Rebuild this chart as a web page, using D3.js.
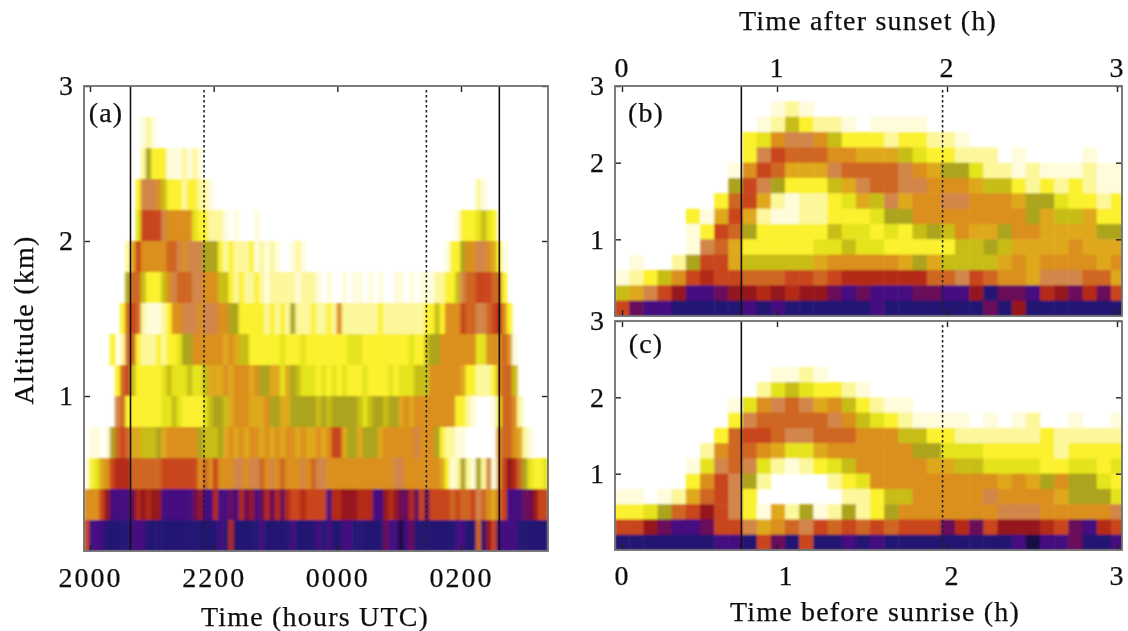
<!DOCTYPE html>
<html>
<head>
<meta charset="utf-8">
<script src="https://cdn.jsdelivr.net/npm/d3@7"></script>
<style>
body { margin: 0; background: #fff; }
text { font-family: "Liberation Serif", serif; fill: #111; stroke: #111; stroke-width: 0.25; }
</style>
</head>
<body>
<div class="mydiv"></div>
<script>
// colour classes, 0 = white (nothing) up to h = near black
var classColors = ["#ffffff", "#fffcdc", "#fdf79c", "#fbf12e", "#e5e31c", "#c8bd16", "#aca41a", "#dfa81a",
                   "#db8f1e", "#d2864a", "#cf6622", "#c9451b", "#b42a14", "#95161f", "#6a0c5a", "#44107f",
                   "#231672", "#151045"];

// each string is one altitude bin, top (2.8-3.0 km) to bottom (0-0.2 km), one char per time bin
var rowsA = [
  "0000000000 0000000000 0000000000 0000000000 0000000000 0000000000 0000000000 0000000000 0000000000",
  "0000000000 0121000000 0000000000 0000000000 0000000000 0000000000 0000000000 0000000000 0000000000",
  "0000000000 0263331112 1210000000 0000000000 0000000000 0000000000 0000000000 0000000000 0000000000",
  "0000000000 3999853332 3322100000 0000000000 0000000000 0000000000 0000000000 0000002100 0000000000",
  "0000000000 4bbbb98888 8433222101 0001000000 0000000000 0000000000 0000000000 0013334543 0000000000",
  "0000000027 b88888aa98 9996663232 2231212100 1210000000 0000000000 0000000000 1336889987 3100000000",
  "000000006a a5333589aa a998885532 3223212222 2122210100 1011010100 1101011122 3359aabbba a300000000",
  "00000003ab a211123889 9989998866 3333323232 6222322328 2222222322 2222223353 888baa99ab c830000000",
  "00000302aa 3222323346 6888888787 5533333343 3343333333 3444333333 3334335668 8888884488 8a81000000",
  "0000003ab5 3333345444 5445777878 8878667747 6544434343 4333433334 3444555888 8887332223 8aa5000000",
  "0000009a33 3333344543 3334566578 8877786677 6666656566 6665456656 6787888888 8833210001 4aa8200000",
  "011016aba7 7555678888 8865556787 8788787878 87877878bb 7667666788 8888988863 2211000000 8aa8721000",
  "13478bccca aaaaabbbbb bb8a8b8889 9899a898a8 8898a99888 8888888888 9988888887 3126216291 8bdca64334",
  "888bdffffe cdcddfffff fedffcffef cedfececec bbcbbbbfcc dddcccffdc deecebebbb babaab9a87 abfffeedbb",
  "bfffgggggf ffgggggggg ggggggfgcg ggggfggggg fggggfgfgg ffggggggef fhfegggggg ggffggagdb ffffgggggg"
];

var rowsB = [
  "0000000000 0000000000 0000000000 000000",
  "0000000000 0121000000 0000000000 000000",
  "0000000000 1253221011 1100000000 000000",
  "0000000003 4899853332 3322100000 000000",
  "0000000003 9baaa88777 5433222010 000100",
  "0000000018 ba7779aaaa 9876642212 111211",
  "000000006b 96333579aa 9988875532 323211",
  "00000003ab 7212234759 7889988876 643323",
  "00000317b7 2112233346 6888888886 755733",
  "0000013ba6 3333354434 3565877688 777766",
  "0000019a73 3333445443 3333556577 778777",
  "010026bb75 5555788888 7675555787 888878",
  "12358bcbba aabbabcccc ccaa9ba887 999aa7",
  "579bdffedd cdcddefeff feeffdgeef cdeceb",
  "beffgggggf gfggggggfg ggggggegdg gggggg"
];

var rowsC = [
  "0000000000 0000000000 0000000000 000000",
  "0000000000 0000000000 0000000000 000000",
  "0000000000 0000000000 0000000000 000000",
  "0000000000 0112100000 0000000000 000000",
  "0000000000 2454332100 0000000000 000000",
  "0000000014 89a9785321 1000000000 000000",
  "0000000039 aaaaa98543 2111101012 001001",
  "00000003ab ba99aaa888 5533222222 322222",
  "00000028aa 8744788888 8664443333 323333",
  "00000149a9 4212345888 8877554444 334434",
  "0000038b96 2000023488 8888888787 686643",
  "110127ab93 0000002235 5888889888 876664",
  "3346abdb93 1726126236 8888888999 888889",
  "bbdeffebb9 78a9bababa bbbecebddd cbefcb",
  "gggggggffg begbggfgfg ggggggggfh ffeggf"
];

var altTicks = [1, 2, 3];
var utcTicks = [0, 2, 4, 6];            // hours after 2000 UTC
var utcLabels = ["2000", "2200", "0000", "0200"];
var hourTicks = [0, 1, 2, 3];
var solidA = [0.655, 6.62], dottedA = [1.845, 5.44];
var solidBC = [0.77], dottedBC = [1.974];

var svg = d3.select(".mydiv").append("svg").attr("width", 1128).attr("height", 631);
var defs = svg.append("defs");
defs.append("filter").attr("id", "softA")
    .attr("x", "-2%").attr("y", "-2%").attr("width", "104%").attr("height", "104%")
  .append("feGaussianBlur").attr("stdDeviation", "1.5 0.9");
defs.append("filter").attr("id", "soft")
    .attr("x", "-2%").attr("y", "-2%").attr("width", "104%").attr("height", "104%")
  .append("feGaussianBlur").attr("stdDeviation", 0.9);
defs.append("filter").attr("id", "softtext")
  .append("feGaussianBlur").attr("stdDeviation", 0.4);

var colorOf = d3.scaleOrdinal(d3.range(classColors.length), classColors);

function drawCells(id, rows, box, nCols, xEnd, blur) {
  var cleaned = rows.map(function(r) { return r.replace(/ /g, ""); });
  var xCell = d3.scaleLinear().domain([0, nCols]).range([box.x0, xEnd]);
  var yCell = d3.scaleLinear().domain([0, rows.length]).range([box.y1 - box.h, box.y1]);
  defs.append("clipPath").attr("id", id).append("rect")
      .attr("x", box.x0).attr("y", box.y1 - box.h).attr("width", box.x1 - box.x0).attr("height", box.h);
  var cells = [];
  cleaned.forEach(function(r, i) {
    r.split("").forEach(function(ch, j) {
      var v = parseInt(ch, 36);
      if (v > 0) cells.push({ row: i, col: j, v: v });
    });
  });
  svg.append("g").attr("clip-path", "url(#" + id + ")")
    .append("g").attr("filter", "url(#" + blur + ")")
    .selectAll("rect").data(cells).enter().append("rect")
      .attr("x", function(d) { return xCell(d.col); })
      .attr("y", function(d) { return yCell(d.row); })
      .attr("width", function(d) { return xCell(d.col + 1) - xCell(d.col) + 0.5; })
      .attr("height", function(d) { return yCell(d.row + 1) - yCell(d.row) + 0.5; })
      .attr("fill", function(d) { return colorOf(d.v); });
}

function drawMarks(xs, y, solid, dotted) {
  var top = y.range()[1], bottom = y.range()[0];
  svg.selectAll(null).data(solid).enter().append("line")
      .attr("x1", xs).attr("x2", xs).attr("y1", top).attr("y2", bottom)
      .attr("stroke", "#111").attr("stroke-width", 1.6);
  svg.selectAll(null).data(dotted).enter().append("line")
      .attr("x1", xs).attr("x2", xs).attr("y1", top + 4).attr("y2", bottom)
      .attr("stroke", "#222").attr("stroke-width", 1.6).attr("stroke-dasharray", "2.5 2.5");
}

function styleLabels(g) {
  g.selectAll("text").attr("font-size", 28).attr("font-family", null)
      .attr("letter-spacing", 2).attr("filter", "url(#softtext)");
}

// inward ticks on all four sides; labels only where asked for
function drawFrame(x, y, box, xVals) {
  var tick = 6;
  var gs = [
    d3.axisBottom(x).tickValues(xVals).tickSize(-tick).tickFormat(""),
    d3.axisTop(x).tickValues(xVals).tickSize(-tick).tickFormat(""),
    d3.axisLeft(y).tickValues(altTicks).tickSize(-tick).tickPadding(9).tickFormat(d3.format("d")),
    d3.axisRight(y).tickValues(altTicks).tickSize(-tick).tickFormat("")
  ];
  var tr = ["translate(0," + box.y1 + ")", "translate(0," + (box.y1 - box.h) + ")",
            "translate(" + box.x0 + ",0)", "translate(" + box.x1 + ",0)"];
  gs.forEach(function(a, i) {
    var g = svg.append("g").attr("transform", tr[i]).call(a);
    g.select(".domain").remove();
    g.selectAll("line").attr("stroke", "#222").attr("stroke-width", 1.4);
    styleLabels(g);
  });
  svg.append("rect").attr("x", box.x0).attr("y", box.y1 - box.h)
      .attr("width", box.x1 - box.x0).attr("height", box.h)
      .attr("fill", "none").attr("stroke", "#6f6f6f").attr("stroke-width", 1.8);
}

function labelAxis(a, y) {
  var g = svg.append("g").attr("transform", "translate(0," + y + ")").call(a);
  g.select(".domain").remove();
  g.selectAll("line").remove();
  styleLabels(g);
}

function label(txt, x, y, rot) {
  svg.append("text").attr("text-anchor", "middle").attr("font-size", 28)
      .attr("letter-spacing", 1.2)
      .attr("filter", "url(#softtext)")
      .attr("transform", "translate(" + x + "," + y + ")" + (rot ? " rotate(" + rot + ")" : ""))
      .text(txt);
}

// panel a
var boxA = { x0: 84, x1: 548, y1: 551, h: 465 };
var xA = d3.scaleLinear().domain([0, 6]).range([90, 461]);
var yA = d3.scaleLinear().domain([0, 3]).range([551, 86]);
drawCells("clipA", rowsA, boxA, 90, 548, "softA");
drawMarks(xA, yA, solidA, dottedA);
drawFrame(xA, yA, boxA, utcTicks);
labelAxis(d3.axisBottom(xA).tickValues(utcTicks).tickSize(0).tickPadding(16)
  .tickFormat(function(d, i) { return utcLabels[i]; }), 551);

// panels b and c share a time axis, the ticks are not evenly spaced in the source
var xBC = d3.scaleLinear().domain(hourTicks).range([622, 777, 947, 1117]);
var xLabelC = d3.scaleLinear().domain(hourTicks).range([622, 786, 952, 1117]);

var boxB = { x0: 615, x1: 1122, y1: 316, h: 230 };
var yB = d3.scaleLinear().domain([0, 3]).range([316, 86]);
drawCells("clipB", rowsB, boxB, 36, 1125, "soft");
drawMarks(xBC, yB, solidBC, dottedBC);
drawFrame(xBC, yB, boxB, hourTicks);
labelAxis(d3.axisTop(xBC).tickValues(hourTicks).tickSize(0).tickPadding(9).tickFormat(d3.format("d")), 86);

var boxC = { x0: 615, x1: 1122, y1: 550, h: 229 };
var yC = d3.scaleLinear().domain([0, 3]).range([550, 321]);
drawCells("clipC", rowsC, boxC, 36, 1125, "soft");
drawMarks(xBC, yC, solidBC, dottedBC);
drawFrame(xBC, yC, boxC, hourTicks);
labelAxis(d3.axisBottom(xLabelC).tickValues(hourTicks).tickSize(0).tickPadding(15).tickFormat(d3.format("d")), 550);

// titles
label("Altitude (km)", 33, 320, -90);
label("Time (hours UTC)", 315, 626);
label("Time after sunset (h)", 868, 30);
label("Time before sunrise (h)", 875, 621);
label("(a)", 106, 122);
label("(b)", 646, 122);
label("(c)", 646, 353);
</script>
</body>
</html>
